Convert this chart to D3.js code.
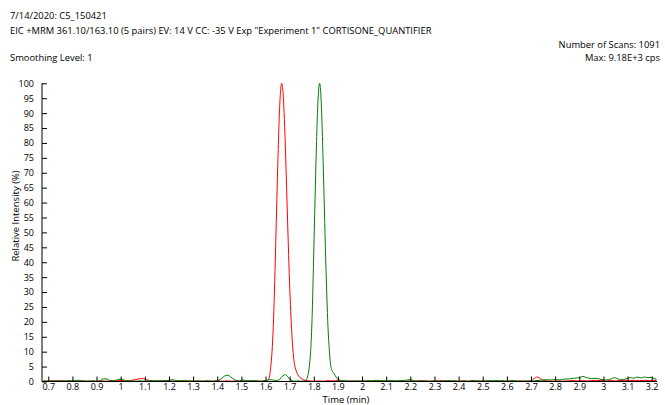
<!DOCTYPE html>
<html>
<head>
<meta charset="utf-8">
<script src="https://cdn.jsdelivr.net/npm/d3@7"></script>
<style>
  body { margin: 0; background: #fff; }
  text { font-family: "Open Sans", "Noto Sans", sans-serif; fill: #000; }
</style>
</head>
<body>
<svg id="chart" width="665" height="405"></svg>
<script>
// header texts
var headerLeft = ["7/14/2020: C5_150421",
    "EIC +MRM 361.10/163.10 (5 pairs) EV: 14 V CC: -35 V Exp \"Experiment 1\" CORTISONE_QUANTIFIER"];
var smoothingText = "Smoothing Level: 1";
var headerRight = ["Number of Scans: 1091", "Max: 9.18E+3 cps"];

// axis ticks
var xTicks = [0.7, 0.8, 0.9, 1.0, 1.1, 1.2, 1.3, 1.4, 1.5, 1.6, 1.7, 1.8, 1.9, 2.0, 2.1, 2.2, 2.3, 2.4, 2.5,
    2.6, 2.7, 2.8, 2.9, 3.0, 3.1, 3.2];
var yTicks = [0, 5, 10, 15, 20, 25, 30, 35, 40, 45, 50, 55, 60, 65, 70, 75, 80, 85, 90, 95, 100];

// red trace (time in min, relative intensity %)
var redTime = [0.68, 0.70, 0.72, 0.74, 0.76, 0.78, 0.80, 0.82, 0.84, 0.86, 0.88, 0.90, 0.92, 0.94, 0.96, 0.98,
    1.00, 1.02, 1.04, 1.06, 1.075, 1.09, 1.105, 1.12, 1.14, 1.16, 1.18, 1.20, 1.22, 1.24, 1.26, 1.28, 1.30,
    1.32, 1.34, 1.36, 1.38, 1.40, 1.42, 1.44, 1.46, 1.48, 1.50, 1.52, 1.54, 1.56, 1.58, 1.595,
    1.607, 1.612, 1.617, 1.622, 1.627, 1.632, 1.637, 1.642, 1.647, 1.652, 1.657, 1.662, 1.667, 1.672, 1.677,
    1.682, 1.687, 1.692, 1.697, 1.702, 1.707, 1.712, 1.717, 1.722, 1.727, 1.732, 1.737, 1.747, 1.757, 1.767,
    1.78, 1.80, 1.82, 1.84, 1.86, 1.88, 1.90, 1.92, 1.94, 1.96, 1.98, 2.00, 2.02, 2.04, 2.06, 2.08, 2.10,
    2.12, 2.14, 2.16, 2.18, 2.20, 2.22, 2.24, 2.26, 2.28, 2.30, 2.32, 2.34, 2.36, 2.38, 2.40, 2.42, 2.44,
    2.46, 2.48, 2.50, 2.52, 2.54, 2.56, 2.58, 2.60, 2.62, 2.64, 2.66, 2.68, 2.70, 2.712, 2.726, 2.74, 2.755,
    2.77, 2.79, 2.81, 2.83, 2.85, 2.87, 2.89, 2.91, 2.93, 2.95, 2.97, 2.99, 3.01, 3.03, 3.05, 3.07, 3.09,
    3.11, 3.13, 3.15, 3.17, 3.19, 3.21, 3.22];
var redValue = [0.2, 0.1, 0.3, 0.2, 0.3, 0.1, 0.2, 0.1, 0.2, 0.1, 0.2, 0.1, 0.2, 0.1, 0.3, 0.2,
    0.4, 0.2, 0.3, 0.6, 0.9, 1.0, 0.7, 0.3, 0.2, 0.1, 0.3, 0.2, 0.1, 0.2, 0.1, 0.2, 0.1,
    0.2, 0.1, 0.2, 0.1, 0.2, 0.1, 0.2, 0.1, 0.2, 0.1, 0.2, 0.1, 0.2, 0.1, 0.2,
    0.3, 0.5, 2, 5, 10, 18, 30, 45, 61, 76, 88.8, 97, 100, 97.5, 90.2,
    79.3, 66.2, 52.5, 39.5, 28.2, 19.2, 12.3, 7.6, 5, 3.6, 2.6, 1.9, 1.1, 0.6, 0.4,
    0.2, 0.1, 0.2, 0.1, 0.3, 0.2, 0.4, 0.2, 0.1, 0.2, 0.1, 0.2, 0.1, 0.2, 0.1, 0.2, 0.1,
    0.2, 0.1, 0.2, 0.1, 0.2, 0.1, 0.3, 0.2, 0.1, 0.2, 0.3, 0.2, 0.1, 0.2, 0.1, 0.2, 0.1,
    0.2, 0.1, 0.2, 0.1, 0.2, 0.1, 0.2, 0.1, 0.2, 0.1, 0.2, 0.1, 0.3, 0.9, 1.5, 0.9, 0.3,
    0.2, 0.1, 0.2, 0.1, 0.2, 0.3, 0.2, 0.3, 0.2, 0.3, 0.4, 0.3, 0.2, 0.3, 0.2, 0.3, 0.4,
    0.3, 0.4, 0.3, 0.4, 0.3, 0.4, 0.3];

// green trace
var greenTime = [0.68, 0.70, 0.72, 0.74, 0.76, 0.78, 0.80, 0.82, 0.84, 0.86, 0.88, 0.90, 0.915, 0.93, 0.945,
    0.96, 0.975, 0.99, 1.005, 1.02, 1.04, 1.06, 1.08, 1.10, 1.12, 1.14, 1.16, 1.18, 1.20, 1.215, 1.23, 1.25,
    1.265, 1.28, 1.30, 1.32, 1.34, 1.36, 1.38, 1.40, 1.415, 1.43, 1.443, 1.455, 1.47, 1.485, 1.50, 1.51,
    1.525, 1.54, 1.56, 1.58, 1.60, 1.615, 1.63, 1.645, 1.66, 1.672, 1.682, 1.692, 1.70, 1.71, 1.72, 1.735,
    1.75, 1.764, 1.769, 1.774, 1.779, 1.784, 1.789, 1.794, 1.799, 1.804, 1.809, 1.814, 1.819, 1.824, 1.829,
    1.834, 1.839, 1.844, 1.849, 1.854, 1.859, 1.864, 1.869, 1.874, 1.879, 1.884, 1.889, 1.894, 1.90, 1.91,
    1.92, 1.94, 1.96, 1.98, 2.00, 2.02, 2.04, 2.06, 2.08, 2.10, 2.12, 2.14, 2.16, 2.18, 2.20, 2.22, 2.24,
    2.26, 2.28, 2.30, 2.32, 2.34, 2.36, 2.38, 2.40, 2.42, 2.44, 2.46, 2.48, 2.50, 2.52, 2.54, 2.56, 2.58,
    2.60, 2.62, 2.64, 2.66, 2.68, 2.70, 2.72, 2.74, 2.76, 2.78, 2.80, 2.82, 2.84, 2.86, 2.88, 2.90, 2.915,
    2.93, 2.95, 2.97, 2.99, 3.01, 3.03, 3.045, 3.06, 3.075, 3.09, 3.11, 3.125, 3.14, 3.155, 3.17, 3.185,
    3.20, 3.21, 3.22];
var greenValue = [0.1, 0.2, 0.1, 0.2, 0.1, 0.3, 0.2, 0.4, 0.2, 0.1, 0.2, 0.1, 0.3, 0.9, 0.8,
    0.2, 0.3, 0.7, 0.8, 0.3, 0.2, 0.1, 0.2, 0.1, 0.3, 0.2, 0.3, 0.2, 0.4, 0.6, 0.3, 0.2,
    0.4, 0.2, 0.1, 0.2, 0.1, 0.2, 0.1, 0.3, 0.8, 1.8, 2.1, 1.6, 0.7, 0.2, 0.4, 0.5,
    0.2, 0.3, 0.2, 0.1, 0.3, 0.6, 0.5, 0.3, 0.8, 1.9, 2.3, 1.6, 0.8, 0.3, 0.1, 0.2,
    0.1, 0.3, 0.6, 1.5, 3.5, 7, 13, 24, 40, 57, 73, 87, 96.6, 100, 96.6,
    87, 73, 57.5, 42, 29, 18, 11, 6, 4, 3.2, 2.6, 2, 1.3, 0.7, 0.4,
    0.3, 0.2, 0.1, 0.2, 0.1, 0.3, 0.2, 0.4, 0.3, 0.2, 0.3, 0.2, 0.3, 0.4, 0.6, 0.2, 0.1,
    0.2, 0.1, 0.2, 0.1, 0.2, 0.3, 0.2, 0.1, 0.2, 0.1, 0.3, 0.2, 0.1, 0.3, 0.2, 0.3, 0.2,
    0.1, 0.3, 0.2, 0.1, 0.2, 0.1, 0.3, 0.4, 0.6, 0.5, 0.7, 0.5, 0.8, 0.9, 1.1, 1.3, 1.7,
    1.3, 1.0, 1.1, 0.7, 0.5, 0.8, 1.3, 0.9, 0.6, 0.8, 1.3, 1.1, 1.5, 1.2, 1.5, 1.3,
    1.4, 0.9, 0.8];

var svg = d3.select("#chart");

var plotLeft = 42, plotRight = 657, plotTop = 83.3, plotBottom = 381.5;

var x = d3.scaleLinear().domain([0.674, 3.222]).range([plotLeft, plotRight]);
var y = d3.scaleLinear().domain([0, 100]).range([plotBottom, plotTop]);

// header
svg.selectAll(".hdr").data(headerLeft).enter().append("text")
    .attr("class", "hdr")
    .attr("x", 10).attr("y", function(d, i) { return 19 + i * 15; })
    .style("font-size", "9.4px")
    .text(function(d) { return d; });

svg.append("text").attr("x", 10).attr("y", 61).style("font-size", "9.4px").text(smoothingText);

svg.selectAll(".hdrR").data(headerRight).enter().append("text")
    .attr("class", "hdrR")
    .attr("x", 660).attr("y", function(d, i) { return 48 + i * 13; })
    .attr("text-anchor", "end")
    .style("font-size", "9.4px")
    .text(function(d) { return d; });

// traces
var line = d3.line()
    .x(function(d) { return x(d[0]); })
    .y(function(d) { return y(d[1]); })
    .curve(d3.curveMonotoneX);

var redData = redTime.map(function(t, i) { return [t, redValue[i]]; });
var greenData = greenTime.map(function(t, i) { return [t, greenValue[i]]; });

svg.append("path").datum(redData)
    .attr("d", line).attr("fill", "none").attr("stroke", "#ff0000").attr("stroke-width", 1);
svg.append("path").datum(greenData)
    .attr("d", line).attr("fill", "none").attr("stroke", "#008000").attr("stroke-width", 1);

// x axis
var xMinor = xTicks.map(function(v) { return v - 0.05; });
var xAxisG = svg.append("g").attr("transform", "translate(0," + plotBottom + ")");
xAxisG.call(d3.axisBottom(x).tickValues(xMinor).tickSize(-2).tickFormat(""));
xAxisG.call(d3.axisBottom(x).tickValues(xTicks).tickSize(-5).tickPadding(2.5)
    .tickFormat(function(d) { return String(+d.toFixed(1)); }));
xAxisG.selectAll("path.domain").attr("d", "M" + plotLeft + ",0H" + plotRight);
xAxisG.selectAll("text").style("font-size", "9px").style("font-family", "'Open Sans', sans-serif");

// y axis
var yMinor = d3.range(0, 101, 1);
var yAxisG = svg.append("g").attr("transform", "translate(" + plotLeft + ",0)");
yAxisG.call(d3.axisLeft(y).tickValues(yMinor).tickSize(-2).tickFormat(""));
yAxisG.call(d3.axisLeft(y).tickValues(yTicks).tickSize(-5).tickPadding(8));
yAxisG.selectAll("path.domain").attr("d", "M0," + plotTop + "V" + plotBottom);
yAxisG.selectAll("text").style("font-size", "9px").style("font-family", "'Open Sans', sans-serif");

// axis titles
svg.append("text")
    .attr("transform", "translate(19," + 216 + ") rotate(-90)")
    .attr("text-anchor", "middle")
    .style("font-size", "9.5px")
    .text("Relative Intensity (%)");

svg.append("text")
    .attr("x", 346).attr("y", 403.3)
    .attr("text-anchor", "middle")
    .style("font-size", "9.5px")
    .text("Time (min)");
</script>
</body>
</html>
